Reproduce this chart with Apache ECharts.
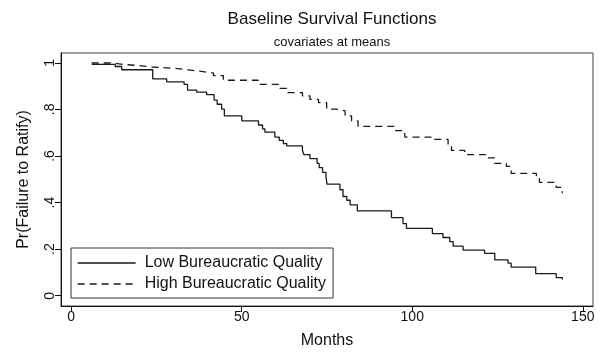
<!DOCTYPE html>
<html>
<head>
<meta charset="utf-8">
<script src="https://cdn.jsdelivr.net/npm/echarts@6/dist/echarts.min.js"></script>
<style>html,body{margin:0;padding:0;background:#fff}#c{width:601px;height:354px}</style>
</head>
<body>
<div id="c"></div>
<script>
const titleText = 'Baseline Survival Functions';
const subtitleText = 'covariates at means';
const xTicks = [0, 50, 100, 150];
const yTicks = [0, 0.2, 0.4, 0.6, 0.8, 1];
const yTickLabels = ['0', '.2', '.4', '.6', '.8', '1'];
const seriesNames = ['Low Bureaucratic Quality', 'High Bureaucratic Quality'];

// [month, survival] — value holds after each time until the next one
const lowQuality = [
  [6, 0.993], [12.9, 0.984], [14.8, 0.970], [23.9, 0.931], [28, 0.918], [33.1, 0.907],
  [34.1, 0.883], [36.8, 0.874], [39.7, 0.863], [41.9, 0.840], [42.8, 0.822], [44.1, 0.801],
  [44.9, 0.772], [50, 0.751], [54.9, 0.733], [56.1, 0.716], [56.8, 0.702], [59.7, 0.681],
  [61, 0.667], [62.2, 0.653], [63.2, 0.643], [67.8, 0.624], [68.2, 0.606], [70, 0.589],
  [72.1, 0.568], [72.7, 0.550], [73.7, 0.530], [74.7, 0.511], [75, 0.479], [78.8, 0.455],
  [79.7, 0.426], [80.8, 0.410], [81.8, 0.390], [83.9, 0.364], [93.9, 0.335], [97.3, 0.310],
  [98.3, 0.289], [105.9, 0.267], [109, 0.250], [111, 0.232], [112, 0.213], [114.9, 0.196],
  [121.2, 0.182], [124.2, 0.154], [128.1, 0.140], [129, 0.123], [136.2, 0.095], [142.2, 0.078],
  [144, 0.070]
];
const highQuality = [
  [6, 0.999], [12.4, 0.993], [15.3, 0.987], [20.7, 0.982], [23.6, 0.976], [30.5, 0.970],
  [34.3, 0.962], [38.7, 0.956], [41.7, 0.945], [44.6, 0.925], [54.8, 0.907], [61.2, 0.890],
  [63.2, 0.872], [67.8, 0.858], [70, 0.843], [72.5, 0.829], [74.9, 0.801], [77.8, 0.794],
  [80.3, 0.772], [82.2, 0.751], [84.1, 0.727], [94.9, 0.709], [97.8, 0.681], [106.1, 0.671],
  [110.5, 0.646], [111.5, 0.624], [115.4, 0.606], [121.5, 0.592], [124.2, 0.568], [127.6, 0.555],
  [129, 0.525], [136.4, 0.507], [137.3, 0.487], [142.2, 0.465], [144, 0.440]
];

const FONT = 'Liberation Sans, Arial, Helvetica, sans-serif';
const chart = echarts.init(document.getElementById('c'), null, {renderer: 'canvas'});
chart.setOption({
  backgroundColor: '#fff',
  animation: false,
  title: [
    {text: titleText, left: 327, top: 6, textAlign: 'center',
     textStyle: {fontFamily: FONT, fontSize: 17, fontWeight: 'normal', color: '#111'}},
    {text: subtitleText, left: 327, top: 31, textAlign: 'center',
     textStyle: {fontFamily: FONT, fontSize: 13, fontWeight: 'normal', color: '#111'}}
  ],
  grid: {left: 61, right: 8, top: 53, bottom: 45, show: true, borderColor: '#444', borderWidth: 1},
  legend: {
    orient: 'vertical', left: 71, top: 248,
    data: seriesNames,
    borderColor: '#333', borderWidth: 1, borderRadius: 0,
    padding: [7, 7, 6, 6], itemGap: 5, itemWidth: 58, itemHeight: 15,
    itemStyle: {opacity: 0},
    lineStyle: {width: 1.3},
    textStyle: {fontFamily: FONT, fontSize: 16, color: '#111', padding: [0, 0, 0, 4]}
  },
  xAxis: {
    type: 'value', min: -3, max: 153,
    name: 'Months', nameLocation: 'middle', nameGap: 27,
    nameTextStyle: {fontFamily: FONT, fontSize: 16, color: '#111'},
    axisLine: {show: true, onZero: false, lineStyle: {color: '#111', width: 1}},
    axisTick: {show: true, length: 6, customValues: xTicks, lineStyle: {color: '#111'}},
    axisLabel: {customValues: xTicks, fontFamily: FONT, fontSize: 14, color: '#111', margin: 4},
    splitLine: {show: false}
  },
  yAxis: {
    type: 'value', min: -0.044, max: 1.042,
    name: 'Pr(Failure to Ratify)', nameLocation: 'middle', nameGap: 29,
    nameTextStyle: {fontFamily: FONT, fontSize: 16, color: '#111'},
    axisLine: {show: true, onZero: false, lineStyle: {color: '#111', width: 1}},
    axisTick: {show: true, length: 6, customValues: yTicks, lineStyle: {color: '#111'}},
    axisLabel: {customValues: yTicks, rotate: 90, fontFamily: FONT, fontSize: 14, color: '#111', margin: 4,
      formatter: function (v) { const i = yTicks.findIndex(t => Math.abs(t - v) < 1e-6); return i >= 0 ? yTickLabels[i] : ''; }},
    splitLine: {show: false}
  },
  series: [
    {name: seriesNames[0], type: 'line', step: 'end', data: lowQuality, symbol: 'none',
     lineStyle: {color: '#1a1a1a', width: 1.3, type: 'solid'}, itemStyle: {color: '#1a1a1a'}},
    {name: seriesNames[1], type: 'line', step: 'end', data: highQuality, symbol: 'none',
     lineStyle: {color: '#1a1a1a', width: 1.3, type: [7, 5]}, itemStyle: {color: '#1a1a1a'}}
  ]
});
</script>
</body>
</html>
